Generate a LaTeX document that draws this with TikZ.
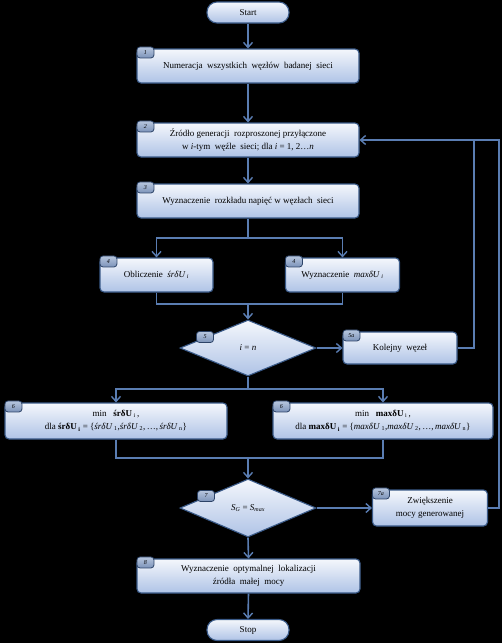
\documentclass[tikz,border=0pt]{standalone}
\usepackage{fontspec}
\setmainfont{Liberation Serif}
\usetikzlibrary{shapes.geometric,arrows.meta}
\definecolor{boxtop}{HTML}{F4F7FC}
\definecolor{boxbot}{HTML}{AFC3E6}
\definecolor{boxline}{HTML}{3A5A88}
\definecolor{tabtop}{HTML}{B7C6DE}
\definecolor{tabbot}{HTML}{7C93B9}
\definecolor{tabline}{HTML}{2C4367}
\definecolor{conncol}{HTML}{5A7DB2}
\tikzset{
  proc/.style={rectangle, rounded corners=4pt, draw=boxline, line width=1.1pt,
    top color=boxtop, bottom color=boxbot, align=center, inner sep=1pt,
    font=\fontsize{9}{13}\selectfont},
  term/.style={proc, rounded corners=10pt, minimum width=82pt, minimum height=21pt},
  dec/.style={diamond, draw=boxline, line width=1.1pt, top color=boxtop,
    bottom color=boxbot, inner sep=0pt, minimum width=136pt, font=\fontsize{9}{11}\selectfont},
  tab/.style={rectangle, rounded corners=3pt, draw=tabline, line width=0.8pt,
    top color=tabtop, bottom color=tabbot, minimum width=17pt, minimum height=11pt,
    inner sep=0pt, font=\fontsize{6}{6}\selectfont\itshape},
  conn/.style={draw=conncol, line width=1.6pt},
  arr/.style={conn, -{Straight Barb[length=5pt,width=9pt,line width=1.4pt]}},
}
\begin{document}
\begin{tikzpicture}[x=1pt,y=-1pt]
\fill[black] (0,0) rectangle (502,643);
\useasboundingbox (0,0) rectangle (502,643);
% nodes
\node[term] (start) at (248,12.5) {Start};
\node[proc, minimum width=222pt, minimum height=34pt] (b1) at (248,66) {Numeracja\ \ wszystkich\ \ węzłów\ \ badanej\ \ sieci};
\node[proc, minimum width=222pt, minimum height=34pt] (b2) at (248,140) {Źródło generacji\ \ rozproszonej przyłączone\\ w \textit{i}-tym\ \ węźle\ \ sieci; dla \textit{i} = 1, 2…\textit{n}};
\node[proc, minimum width=222pt, minimum height=34pt] (b3) at (248,201) {Wyznaczenie\ \ rozkładu napięć w węzłach\ \ sieci};
\node[proc, minimum width=113pt, minimum height=34pt] (b4l) at (156.5,275) {Obliczenie\ \ \textit{śrδU}\,\textsubscript{\textit{i}}};
\node[proc, minimum width=114pt, minimum height=34pt] (b4r) at (342.5,275) {Wyznaczenie\ \ \textit{maxδU}\,\textsubscript{\textit{i}}};
\node[dec, minimum height=56pt] (d5) at (248,348) {\textit{i} = \textit{n}};
\node[proc, minimum width=114pt, minimum height=32pt] (b5a) at (400,348) {Kolejny\ \ węzeł};
\node[proc, minimum width=222pt, minimum height=36pt] (b6l) at (116,421) {min\ \ \ \textbf{śrδU}\,\textsubscript{i}\,,\\ dla \textbf{śrδU}\,\textsubscript{\textbf{i}} = \{\textit{śrδU}\,\textsubscript{1},\textit{śrδU}\,\textsubscript{2},\,…,\,\textit{śrδU}\,\textsubscript{n}\}};
\node[proc, minimum width=220pt, minimum height=36pt] (b6r) at (383,421) {min\ \ \ \textbf{maxδU}\,\textsubscript{i}\,,\\ dla \textbf{maxδU}\,\textsubscript{\textbf{i}} = \{\textit{maxδU}\,\textsubscript{1},\textit{maxδU}\,\textsubscript{2},\,…,\,\textit{maxδU}\,\textsubscript{n}\}};
\node[dec, minimum height=58pt] (d7) at (248,508) {\textit{S}\textsubscript{\textit{G}} = \textit{S}\textsubscript{\textit{max}}};
\node[proc, minimum width=115pt, minimum height=36pt] (b7a) at (430,508) {Zwiększenie\\ mocy generowanej};
\node[proc, minimum width=223pt, minimum height=34pt] (b8) at (248.5,576) {Wyznaczenie\ \ optymalnej\ \ lokalizacji\\ źródła\ \ małej\ \ mocy};
\node[term] (stop) at (248,630) {Stop};
% number tabs
\node[tab] (t1) at ([xshift=9pt,yshift=-4pt]b1.north west) {1};
\node[tab] (t2) at ([xshift=9pt,yshift=-4pt]b2.north west) {2};
\node[tab] (t3) at ([xshift=9pt,yshift=-4pt]b3.north west) {3};
\node[tab] (t4l) at ([xshift=9pt,yshift=-4pt]b4l.north west) {4};
\node[tab] (t4r) at ([xshift=9pt,yshift=-4pt]b4r.north west) {4};
\node[tab] (t5) at (205,337) {5};
\node[tab] (t5a) at ([xshift=9pt,yshift=-4pt]b5a.north west) {5a};
\node[tab] (t6l) at ([xshift=9pt,yshift=-4pt]b6l.north west) {6};
\node[tab] (t6r) at ([xshift=9pt,yshift=-4pt]b6r.north west) {6};
\node[tab] (t7) at (206,496) {7};
\node[tab] (t7a) at ([xshift=9pt,yshift=-4pt]b7a.north west) {7a};
\node[tab] (t8) at ([xshift=9pt,yshift=-4pt]b8.north west) {8};
% helper coordinates
\coordinate (s1) at (248,238);
\coordinate (j1) at (248,304);
\coordinate (s2) at (248,389);
\coordinate (j2) at (248,458);
\coordinate (r1) at (474,140);
\coordinate (r2) at (499,140);
% connectors
\draw[arr] (start) -- (b1);
\draw[arr] (b1) -- (b2);
\draw[arr] (b2) -- (b3);
\draw[conn] (b3.south) -- (s1);
\draw[arr] (s1) -| (b4l.north);
\draw[arr] (s1) -| (b4r.north);
\draw[conn] (b4l.south) |- (j1) -| (b4r.south);
\draw[arr] (j1) -- (d5.north);
\draw[arr] (d5.east) -- (b5a.west);
\draw[conn] (b5a.east) -| (r1);
\draw[conn] (b7a.east) -| (r2) -- (r1);
\draw[arr] (r1) -- (b2.east);
\draw[conn] (d5.south) -- (s2);
\draw[arr] (s2) -| (b6l.north);
\draw[arr] (s2) -| (b6r.north);
\draw[conn] (b6l.south) |- (j2) -| (b6r.south);
\draw[arr] (j2) -- (d7.north);
\draw[arr] (d7.east) -- (b7a.west);
\draw[arr] (d7.south) -- (b8.north);
\draw[arr] (b8.south) -- (stop.north);
\end{tikzpicture}
\end{document}
